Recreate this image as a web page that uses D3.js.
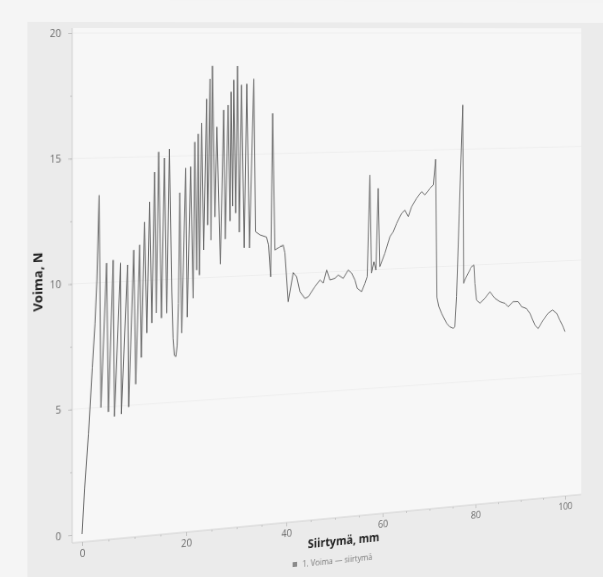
<!DOCTYPE html>
<html><head><meta charset="utf-8">
<script src="https://cdn.jsdelivr.net/npm/d3@7"></script>
<style>
html,body{margin:0;padding:0;background:#f4f4f4;overflow:hidden;width:603px;height:577px}
#wrap{position:relative;width:603px;height:577px;perspective:1000px;perspective-origin:82px 31px}
#chart{position:absolute;left:0;top:0;transform-origin:82px 31px;transform:rotateY(10.56deg)}
text{font-family:"Open Sans","Noto Sans",sans-serif}
</style></head>
<body><div id="wrap"><svg id="chart" width="720" height="640"></svg></div>
<script>
// Siirtymä (mm)
const displacement = [
  0, 0.49, 1.22, 1.94, 2.45, 2.81, 3.24, 3.58, 4.66, 5.0, 5.91, 6.16, 7.32, 7.47,
  8.65, 8.86, 9.85, 10.23, 10.99, 11.31, 11.93, 12.37, 12.89, 13.33, 13.85, 14.18,
  14.66, 15.2, 15.78, 16.22, 16.74, 17.2, 17.45, 17.7, 18.0, 18.25, 18.5, 18.77,
  19.15, 19.92, 20.23, 20.88, 21.38, 21.71, 22.09, 22.38, 22.63, 23.06, 23.45,
  24.03, 24.22, 24.71, 24.9, 25.19, 25.68, 26.07, 26.75, 27.41, 27.72, 28.3,
  28.69, 28.9, 29.19, 29.42, 29.79, 30.16, 30.53, 30.98, 31.51, 32.03, 32.55,
  33.44, 33.8, 34.67, 36.0, 36.4, 36.83, 37.24, 37.7, 38.72, 39.39, 39.73, 40.4,
  41.42, 42.12, 42.8, 43.82, 44.5, 45.87, 46.91, 47.59, 48.29, 48.97, 50.0, 50.69,
  51.73, 52.77, 53.48, 54.17, 54.66, 55.57, 56.26, 56.74, 57.31, 57.66, 58.15,
  58.57, 59.06, 59.41, 60.48, 61.54, 62.24, 62.96, 64.03, 64.73, 65.44, 66.15,
  67.22, 68.3, 69.01, 70.09, 70.81, 71.31, 71.6, 72.0, 72.6, 73.7, 74.4, 75.13,
  75.49, 75.85, 76.44, 77.2, 77.4, 77.67, 78.39, 79.14, 79.64, 79.86, 80.23,
  80.96, 82.06, 83.16, 84.27, 85.38, 86.49, 87.22, 88.33, 89.44, 90.2, 91.31,
  92.07, 93.18, 93.92, 95.06, 96.18, 97.17, 98.08, 98.82, 99.58, 100
];
// Voima (N)
const force = [
  0, 1.8, 3.97, 6.6, 8.35, 10.1, 13.5, 5.0, 10.77, 4.8, 10.88, 4.6, 10.75, 4.68,
  10.66, 4.94, 11.25, 5.84, 11.45, 6.9, 12.36, 7.88, 13.17, 8.27, 14.37, 8.67,
  15.18, 8.45, 14.93, 8.64, 15.29, 9.5, 7.6, 6.9, 6.85, 7.3, 9.0, 13.5,
  7.8, 14.5, 8.43, 14.55, 9.19, 15.55, 10.33, 15.88, 10.12, 16.32, 11.14,
  17.3, 12.15, 18.12, 11.53, 18.65, 12.47, 16.15, 10.53, 16.84, 11.55, 17.04,
  12.28, 17.58, 12.89, 18.07, 12.6, 18.64, 11.81, 17.86, 11.15, 17.9, 11.14,
  18.1, 11.8, 11.66, 11.56, 11.23, 9.91, 16.67, 11.01, 11.14, 11.2, 10.87, 8.84,
  10.04, 9.86, 9.23, 8.94, 9.0, 9.41, 9.68, 9.54, 10.08, 9.66, 9.72, 9.85,
  9.7, 10.04, 9.9, 9.61, 9.25, 9.1, 9.44, 9.72, 14.0, 9.86, 10.34,
  9.98, 13.43, 10.12, 10.68, 11.37, 11.57, 11.92, 12.34, 12.47, 12.19, 12.6,
  12.96, 13.23, 13.09, 13.36, 13.5, 14.6, 8.7, 8.3, 8.0, 7.56, 7.4, 7.33,
  7.39, 8.68, 12.25, 16.9, 9.24, 9.38, 9.66, 9.93, 10.0, 9.21, 8.49,
  8.34, 8.54, 8.81, 8.52, 8.36, 8.28, 8.12, 8.33, 8.32, 8.09, 8.0,
  7.78, 7.26, 7.1, 7.46, 7.74, 7.87, 7.72, 7.41, 7.1, 6.89
];
const xTicks = [0, 20, 40, 60, 80, 100];
const yTicks = [0, 5, 10, 15, 20];
const xMinorTicks = d3.range(0, 101, 5);
const yMinorTicks = d3.range(0, 20.1, 2.5);
const xTitle = "Siirtymä, mm";
const yTitle = "Voima, N";
const legendText = "1. Voima — siirtymä";

const data = displacement.map((d, i) => [d, force[i]]);
const svg = d3.select("#chart");
const x = d3.scaleLinear().domain([0, 100]).range([82, 622]);
const y = d3.scaleLinear().domain([0, 20]).range([534, 33]);

// backgrounds
svg.append("rect").attr("x", 0).attr("y", 0).attr("width", 720).attr("height", 640).attr("fill", "#f5f5f5");
svg.append("rect").attr("x", 27).attr("y", 22).attr("width", 700).attr("height", 640).attr("fill", "#ebebeb");
svg.append("rect").attr("x", 72).attr("y", 28).attr("width", 570).attr("height", 514).attr("fill", "#f7f7f7");

// very faint grid
svg.append("g").selectAll("line").data(yTicks.slice(1)).join("line")
  .attr("x1", 72).attr("x2", 642).attr("y1", d => y(d)).attr("y2", d => y(d))
  .attr("stroke", "#eeeeee").attr("stroke-width", 1);

// axes
const yAxis = svg.append("g").attr("transform", "translate(72,0)")
  .call(d3.axisLeft(y).tickValues(yTicks).tickSize(4).tickPadding(7));
const yMinor = svg.append("g").attr("transform", "translate(72,0)")
  .call(d3.axisLeft(y).tickValues(yMinorTicks).tickSize(2).tickFormat(""));
yMinor.select(".domain").remove();
const xAxis = svg.append("g").attr("transform", "translate(0,542)")
  .call(d3.axisBottom(x).tickValues(xTicks).tickSize(4).tickPadding(4));
const xMinor = svg.append("g").attr("transform", "translate(0,542)")
  .call(d3.axisBottom(x).tickValues(xMinorTicks).tickSize(2).tickFormat(""));
xMinor.select(".domain").remove();
xAxis.select(".domain").attr("d", "M72,0H642");
yAxis.select(".domain").attr("d", "M0,28V542");
svg.selectAll(".domain").attr("stroke", "#d2d2d2");
svg.selectAll(".tick line").attr("stroke", "#c4c4c4");
svg.selectAll(".tick text").attr("fill", "#6a6a6a").attr("font-size", 10)
  .attr("font-family", '"Open Sans","Noto Sans",sans-serif');

// titles
svg.append("text").attr("transform", "translate(42,280) rotate(-90)")
  .attr("text-anchor", "middle").attr("font-size", 13).attr("font-weight", 700)
  .attr("fill", "#222").text(yTitle);
svg.append("text").attr("x", 362).attr("y", 571)
  .attr("text-anchor", "middle").attr("font-size", 12).attr("font-weight", 700)
  .attr("fill", "#222").text(xTitle);
const lg = svg.append("g").attr("transform", "translate(352,590)");
lg.append("rect").attr("x", -47).attr("y", -6).attr("width", 5).attr("height", 5).attr("fill", "#8a8a8a");
lg.append("text").attr("x", 3).attr("y", 0).attr("text-anchor", "middle")
  .attr("font-size", 8.5).attr("fill", "#7a7a7a").text(legendText);

// data line
svg.append("path").datum(data)
  .attr("fill", "none").attr("stroke", "#686868").attr("stroke-width", 1)
  .attr("stroke-linejoin", "round")
  .attr("d", d3.line().x(d => x(d[0])).y(d => y(d[1])));
</script></body></html>
